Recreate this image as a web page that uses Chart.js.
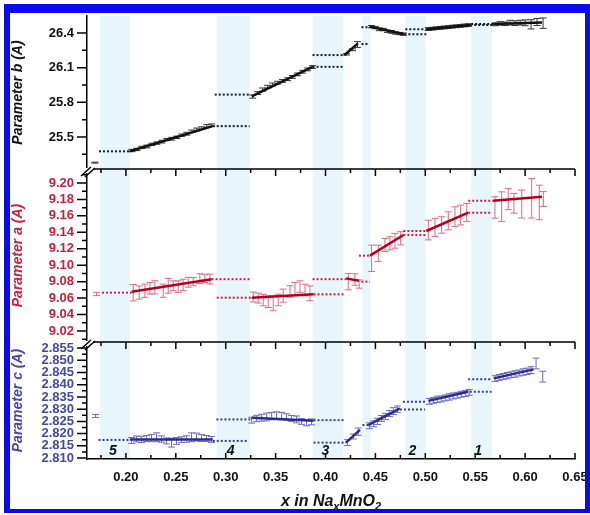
<!DOCTYPE html>
<html lang="en">
<head>
  <meta charset="UTF-8">
  <title>Lattice parameters vs x in NaxMnO2</title>
  <script src="https://cdn.jsdelivr.net/npm/chart.js"></script>
  <style>
    body { margin: 0; background: #fff; }
    #wrap { position: relative; width: 590px; height: 515px; }
    #wrap canvas { position: absolute; left: 0; top: 0; }
    #frame {
      position: absolute; left: 4px; top: 4px; width: 586px; height: 509px;
      box-sizing: border-box; border-style: solid; border-color: #0a0af0;
      border-width: 9px 5px 4px 6px; pointer-events: none;
    }
  </style>
</head>
<body>
  <div id="wrap">
    <canvas id="panelB" width="590" height="515"></canvas>
    <canvas id="panelA" width="590" height="515"></canvas>
    <canvas id="panelC" width="590" height="515"></canvas>
    <div id="frame"></div>
  </div>

  <script>
    const FONT = 'Arial, "Liberation Sans", Helvetica, sans-serif';

    // shared x axis
    const xMin = 0.161, xMax = 0.65;
    const xTicks = [0.20, 0.25, 0.30, 0.35, 0.40, 0.45, 0.50, 0.55, 0.60, 0.65];
    const bands = [[0.174, 0.204], [0.291, 0.324], [0.387, 0.418], [0.437, 0.445], [0.480, 0.500], [0.546, 0.567]];
    const bandLabels = ['5', '4', '3', '2', '1'];
    const bandLabelX = [0.187, 0.305, 0.400, 0.487, 0.553];
    const xTitle = [['x in Na', false], ['x', true], ['MnO', false], ['2', true]];

    // Parameter b (top)
    const bTicks = [25.5, 25.8, 26.1, 26.4];
    const bX = [0.169,
      0.206, 0.211, 0.216, 0.221, 0.226, 0.231, 0.236, 0.241, 0.246, 0.251, 0.256, 0.261, 0.266, 0.271, 0.276, 0.281, 0.286,
      0.327, 0.332, 0.337, 0.342, 0.347, 0.352, 0.357, 0.362, 0.367, 0.372, 0.377, 0.382, 0.387,
      0.421, 0.427, 0.432,
      0.446, 0.450, 0.454, 0.458, 0.462, 0.466, 0.470, 0.474, 0.478,
      0.503, 0.507, 0.511, 0.515, 0.519, 0.523, 0.527, 0.531, 0.535, 0.539, 0.543,
      0.570, 0.575, 0.580, 0.585, 0.590, 0.595, 0.600, 0.606, 0.612, 0.618];
    const bY = [25.278,
      25.383, 25.392, 25.410, 25.418, 25.436, 25.447, 25.460, 25.478, 25.485, 25.497, 25.516, 25.528, 25.550, 25.565, 25.578, 25.595, 25.603,
      25.850, 25.880, 25.910, 25.935, 25.955, 25.970, 25.985, 26.000, 26.020, 26.042, 26.065, 26.085, 26.105,
      26.215, 26.255, 26.300,
      26.455, 26.447, 26.432, 26.430, 26.415, 26.410, 26.400, 26.395, 26.390,
      26.434, 26.437, 26.441, 26.444, 26.448, 26.451, 26.455, 26.458, 26.461, 26.465, 26.468,
      26.475, 26.483, 26.480, 26.490, 26.485, 26.490, 26.488, 26.475, 26.495, 26.485];
    const bErr = [0.004,
      0.010, 0.010, 0.010, 0.012, 0.010, 0.010, 0.012, 0.010, 0.012, 0.010, 0.010, 0.012, 0.010, 0.012, 0.010, 0.012, 0.010,
      0.014, 0.012, 0.014, 0.012, 0.012, 0.012, 0.012, 0.012, 0.012, 0.012, 0.012, 0.012, 0.012,
      0.006, 0.008, 0.025,
      0.010, 0.010, 0.012, 0.010, 0.010, 0.012, 0.010, 0.010, 0.010,
      0.012, 0.012, 0.012, 0.012, 0.012, 0.012, 0.012, 0.012, 0.012, 0.012, 0.012,
      0.012, 0.015, 0.015, 0.020, 0.020, 0.020, 0.025, 0.040, 0.030, 0.045];
    const bFits = [[0.204, 25.376, 0.287, 25.594], [0.326, 25.852, 0.387, 26.107], [0.419, 26.209, 0.4325, 26.310],
      [0.444, 26.455, 0.479, 26.389], [0.501, 26.432, 0.545, 26.470], [0.568, 26.478, 0.617, 26.490]];
    const bDots = [[0.173, 0.204, 25.376], [0.287, 0.324, 25.594], [0.289, 0.324, 25.867], [0.387, 0.4185, 26.107],
      [0.387, 0.4195, 26.209], [0.436, 0.444, 26.305], [0.436, 0.444, 26.450], [0.479, 0.501, 26.389],
      [0.480, 0.501, 26.432], [0.545, 0.567, 26.470], [0.546, 0.568, 26.478]];

    // Parameter a (middle)
    const aTicks = [9.02, 9.04, 9.06, 9.08, 9.10, 9.12, 9.14, 9.16, 9.18, 9.20];
    const aX = [0.1706,
      0.2073, 0.2133, 0.219, 0.224, 0.229, 0.2374, 0.2424, 0.2474, 0.2524, 0.2574, 0.2624, 0.2674, 0.2741, 0.2791, 0.2842,
      0.3276, 0.3326, 0.3376, 0.3426, 0.3476, 0.3526, 0.3576, 0.3644, 0.3694, 0.3744, 0.3794, 0.3844,
      0.4228, 0.4295, 0.4338,
      0.4462, 0.4529, 0.4596, 0.4646, 0.4696, 0.4753,
      0.503, 0.5097, 0.5164, 0.523, 0.5297, 0.5354, 0.5415,
      0.5698, 0.5765, 0.5831, 0.5888, 0.5966, 0.6066, 0.6142, 0.6183];
    const aY = [9.065,
      9.0666, 9.0668, 9.0689, 9.0719, 9.0731, 9.069, 9.075, 9.075, 9.074, 9.076, 9.0792, 9.080, 9.0836, 9.084, 9.0832,
      9.0613, 9.060, 9.0577, 9.0556, 9.0536, 9.0577, 9.063, 9.068, 9.071, 9.074, 9.0698, 9.0658,
      9.080, 9.0826, 9.0771,
      9.1084, 9.1144, 9.1246, 9.1266, 9.1297, 9.1327,
      9.1428, 9.1459, 9.1489, 9.154, 9.159, 9.161, 9.164,
      9.1702, 9.1712, 9.1805, 9.1753, 9.1744, 9.1814, 9.1763, 9.1805];
    const aErr = [0.002,
      0.010, 0.008, 0.008, 0.007, 0.008, 0.008, 0.009, 0.006, 0.007, 0.007, 0.006, 0.005, 0.006, 0.005, 0.006,
      0.006, 0.006, 0.007, 0.007, 0.009, 0.007, 0.008, 0.007, 0.008, 0.007, 0.007, 0.009,
      0.010, 0.007, 0.005,
      0.016, 0.010, 0.008, 0.008, 0.009, 0.008,
      0.012, 0.011, 0.010, 0.011, 0.012, 0.012, 0.011,
      0.013, 0.018, 0.013, 0.012, 0.017, 0.024, 0.021, 0.009];
    const aFits = [[0.2057, 9.0678, 0.2858, 9.0829], [0.326, 9.0605, 0.388, 9.0646], [0.4205, 9.084, 0.4335, 9.081],
      [0.4445, 9.1116, 0.478, 9.1367], [0.501, 9.1416, 0.543, 9.1639], [0.568, 9.1785, 0.617, 9.1833]];
    const aDots = [[0.176, 0.2057, 9.0666], [0.2858, 0.324, 9.083], [0.291, 0.326, 9.0605], [0.388, 0.418, 9.0646],
      [0.387, 0.4205, 9.083], [0.436, 0.4445, 9.080], [0.4335, 0.4445, 9.1116], [0.478, 0.501, 9.1367],
      [0.478, 0.501, 9.1416], [0.543, 0.565, 9.1639], [0.543, 0.568, 9.1785]];

    // Parameter c (bottom)
    const cTicks = [2.810, 2.815, 2.820, 2.825, 2.830, 2.835, 2.840, 2.845, 2.850, 2.855];
    const cX = [0.1696,
      0.2057, 0.2107, 0.2157, 0.2207, 0.2257, 0.2307, 0.2357, 0.2407, 0.2457, 0.2507, 0.2557, 0.2607, 0.2657, 0.2707, 0.2757, 0.2807, 0.2857,
      0.326, 0.331, 0.336, 0.341, 0.346, 0.351, 0.356, 0.361, 0.366, 0.371, 0.376, 0.381, 0.386,
      0.4219, 0.4278, 0.4328,
      0.444, 0.448, 0.452, 0.456, 0.460, 0.464, 0.468, 0.472,
      0.504, 0.508, 0.512, 0.516, 0.520, 0.524, 0.528, 0.532, 0.536, 0.540, 0.544,
      0.570, 0.574, 0.578, 0.582, 0.586, 0.590, 0.594, 0.598, 0.602, 0.606, 0.611, 0.6177];
    const cY = [2.8272,
      2.8172, 2.8178, 2.8176, 2.8180, 2.8182, 2.8185, 2.8178, 2.8170, 2.8163, 2.8170, 2.8175, 2.8178, 2.8185, 2.8186, 2.8182, 2.8180, 2.8176,
      2.8255, 2.8262, 2.8265, 2.8268, 2.8272, 2.8275, 2.8272, 2.8268, 2.8262, 2.8258, 2.8250, 2.8245, 2.8248,
      2.8163, 2.8188, 2.8208,
      2.8232, 2.8240, 2.8250, 2.8262, 2.8270, 2.8282, 2.8292, 2.8300,
      2.8332, 2.8336, 2.8340, 2.8342, 2.8346, 2.8350, 2.8354, 2.8357, 2.8361, 2.8364, 2.8369,
      2.8425, 2.8430, 2.8434, 2.8437, 2.8441, 2.8444, 2.8448, 2.8452, 2.8455, 2.8460, 2.8487, 2.8433];
    const cErr = [0.0006,
      0.0012, 0.0012, 0.0013, 0.0012, 0.0015, 0.0018, 0.0013, 0.0012, 0.0018, 0.0014, 0.0012, 0.0013, 0.0018, 0.0016, 0.0014, 0.0012, 0.0012,
      0.0012, 0.0013, 0.0014, 0.0016, 0.0015, 0.0014, 0.0015, 0.0013, 0.0012, 0.0014, 0.0012, 0.0013, 0.0012,
      0.0012, 0.0010, 0.0015,
      0.0012, 0.0012, 0.0013, 0.0012, 0.0013, 0.0012, 0.0014, 0.0013,
      0.0012, 0.0012, 0.0013, 0.0012, 0.0012, 0.0013, 0.0012, 0.0012, 0.0012, 0.0012, 0.0012,
      0.0012, 0.0012, 0.0012, 0.0013, 0.0012, 0.0013, 0.0012, 0.0013, 0.0013, 0.0014, 0.0022, 0.0022];
    const cFits = [[0.204, 2.8176, 0.287, 2.8176], [0.326, 2.8265, 0.388, 2.8253], [0.4205, 2.8163, 0.4345, 2.8215],
      [0.4428, 2.8235, 0.4746, 2.8303], [0.503, 2.8334, 0.543, 2.8371], [0.5685, 2.8426, 0.6085, 2.8463]];
    const cDots = [[0.1725, 0.204, 2.8174], [0.2907, 0.326, 2.8258], [0.287, 0.3216, 2.8170], [0.388, 0.4195, 2.8255],
      [0.388, 0.4205, 2.8163], [0.437, 0.4428, 2.8235], [0.4746, 0.4996, 2.8299], [0.4776, 0.5006, 2.8330],
      [0.5446, 0.5663, 2.8371], [0.543, 0.5663, 2.8422]];

    // draws bands, error bars, tick marks, break marks and labels
    const deco = {
      id: 'deco',
      beforeDraw(chart) {
        const { ctx, chartArea: a, scales: { x } } = chart;
        ctx.save();
        ctx.fillStyle = '#e8f5fb';
        bands.forEach(([b0, b1]) => {
          const p0 = x.getPixelForValue(b0), p1 = x.getPixelForValue(b1);
          ctx.fillRect(p0, a.top, p1 - p0, a.bottom - a.top);
        });
        ctx.restore();
      },
      beforeDatasetsDraw(chart, args, o) {
        const { ctx, scales: { x, y } } = chart;
        const pts = chart.data.datasets[0].data;
        ctx.save();
        ctx.strokeStyle = o.errColor;
        ctx.lineWidth = 1;
        pts.forEach((p, i) => {
          const px = x.getPixelForValue(p.x);
          const y1 = y.getPixelForValue(p.y + o.err[i]);
          const y2 = y.getPixelForValue(p.y - o.err[i]);
          ctx.beginPath();
          ctx.moveTo(px, y1); ctx.lineTo(px, y2);
          ctx.moveTo(px - 3.5, y1); ctx.lineTo(px + 3.5, y1);
          ctx.moveTo(px - 3.5, y2); ctx.lineTo(px + 3.5, y2);
          ctx.stroke();
        });
        ctx.restore();
      },
      afterDraw(chart, args, o) {
        const { ctx, chartArea: a, scales: { x, y } } = chart;
        ctx.save();
        ctx.strokeStyle = '#000';
        ctx.lineWidth = 1.5;

        // y ticks (major + minor), outward
        const step = o.yTicks[1] - o.yTicks[0];
        ctx.beginPath();
        o.yTicks.forEach(t => {
          const py = y.getPixelForValue(t);
          ctx.moveTo(a.left - 10, py); ctx.lineTo(a.left, py);
          [t - step / 2, t + step / 2].forEach(m => {
            if (m > y.min && m < y.max) {
              const pm = y.getPixelForValue(m);
              ctx.moveTo(a.left - 5, pm); ctx.lineTo(a.left, pm);
            }
          });
        });
        ctx.stroke();

        const xMinor = xTicks.map(t => t - 0.025).filter(t => t > xMin);
        if (o.top) {
          ctx.beginPath();
          ctx.moveTo(a.left, a.top); ctx.lineTo(a.right, a.top);
          xTicks.forEach(t => { const p = x.getPixelForValue(t); ctx.moveTo(p, a.top); ctx.lineTo(p, a.top + 7); });
          xMinor.forEach(t => { const p = x.getPixelForValue(t); ctx.moveTo(p, a.top); ctx.lineTo(p, a.top + 4); });
          ctx.stroke();
          // break mark
          ctx.fillStyle = '#fff';
          ctx.fillRect(a.left - 6, a.top - 1, 12, 5);
          ctx.beginPath();
          ctx.moveTo(a.left - 6, a.top + 7); ctx.lineTo(a.left + 4, a.top - 2);
          ctx.moveTo(a.left - 2, a.top + 8); ctx.lineTo(a.left + 8, a.top - 1);
          ctx.stroke();
        }
        if (o.bottom) {
          ctx.beginPath();
          xTicks.forEach(t => { const p = x.getPixelForValue(t); ctx.moveTo(p, a.bottom); ctx.lineTo(p, a.bottom - 6); });
          xMinor.forEach(t => { const p = x.getPixelForValue(t); ctx.moveTo(p, a.bottom); ctx.lineTo(p, a.bottom - 4); });
          ctx.stroke();

          ctx.fillStyle = '#111';
          ctx.font = `italic bold 14px ${FONT}`;
          ctx.textAlign = 'center';
          ctx.textBaseline = 'middle';
          bandLabels.forEach((s, i) => ctx.fillText(s, x.getPixelForValue(bandLabelX[i]), a.bottom - 8));

          // x title with subscripts
          const big = `italic bold 16px ${FONT}`, small = `italic bold 11px ${FONT}`;
          let w = 0;
          xTitle.forEach(([s, sub]) => { ctx.font = sub ? small : big; w += ctx.measureText(s).width; });
          let cx = (a.left + a.right) / 2 - w / 2;
          ctx.textAlign = 'left';
          ctx.textBaseline = 'alphabetic';
          xTitle.forEach(([s, sub]) => {
            ctx.font = sub ? small : big;
            ctx.fillText(s, cx, sub ? 510 : 506);
            cx += ctx.measureText(s).width;
          });
        }
        ctx.restore();
      }
    };

    function panelDatasets(X, Y, fits, dots, lineColor, dotColor) {
      const sets = [{ data: X.map((x, i) => ({ x, y: Y[i] })), showLine: false, pointRadius: 0 }];
      fits.forEach(f => sets.push({
        data: [{ x: f[0], y: f[1] }, { x: f[2], y: f[3] }],
        showLine: true, borderColor: lineColor, borderWidth: 2.5, pointRadius: 0
      }));
      dots.forEach(d => sets.push({
        data: [{ x: d[0], y: d[2] }, { x: d[1], y: d[2] }],
        showLine: true, borderColor: dotColor, borderWidth: 2, borderDash: [2, 2], pointRadius: 0
      }));
      return sets;
    }

    function yScale(ticks, digits, min, max, title, color) {
      return {
        type: 'linear', position: 'left', min, max,
        afterFit: s => { s.width = 87; s.paddingTop = 0; s.paddingBottom = 0; },
        afterBuildTicks: s => { s.ticks = ticks.map(v => ({ value: v })); },
        border: { display: true, color: '#000', width: 1.5 },
        grid: { drawOnChartArea: false, drawTicks: false },
        ticks: { color, padding: 13, autoSkip: false, font: { family: FONT, size: 13, weight: 'bold' }, callback: v => v.toFixed(digits) },
        title: {
          display: true, text: title, color, padding: { top: 10, bottom: 0 },
          font: { family: FONT, size: 14, weight: 'bold', style: 'italic' }
        }
      };
    }

    function makePanel(id, sets, yOpts, pad, deco_opts, showX) {
      const xScale = showX ? {
        type: 'linear', min: xMin, max: xMax,
        afterFit: s => { s.height = 30; s.paddingLeft = 0; s.paddingRight = 0; },
        afterBuildTicks: s => { s.ticks = xTicks.map(v => ({ value: v })); },
        border: { display: true, color: '#000', width: 1.5 },
        grid: { drawOnChartArea: false, drawTicks: false },
        ticks: { color: '#111', padding: 11, maxRotation: 0, autoSkip: false, font: { family: FONT, size: 13, weight: 'bold' }, callback: v => v.toFixed(2) }
      } : { type: 'linear', min: xMin, max: xMax, display: false };
      return new Chart(document.getElementById(id), {
        type: 'scatter',
        data: { datasets: sets },
        options: {
          responsive: false,
          animation: false,
          layout: { padding: pad },
          scales: { x: xScale, y: yOpts },
          plugins: { legend: { display: false }, tooltip: { enabled: false }, deco: deco_opts }
        },
        plugins: [deco]
      });
    }

    makePanel('panelB',
      panelDatasets(bX, bY, bFits, bDots, '#111', '#1a1a1a'),
      yScale(bTicks, 1, 25.223, 26.547, 'Parameter b (A)', '#111'),
      { top: 16, bottom: 346, left: 0, right: 15 },
      { err: bErr, errColor: '#333', yTicks: bTicks, top: false, bottom: false }, false);

    makePanel('panelA',
      panelDatasets(aX, aY, aFits, aDots, '#b4001e', '#d0203c'),
      yScale(aTicks, 2, 9.0066, 9.217, 'Parameter a (A)', '#c8203c'),
      { top: 169, bottom: 173, left: 0, right: 15 },
      { err: aErr, errColor: '#e06a7e', yTicks: aTicks, top: true, bottom: false }, false);

    makePanel('panelC',
      panelDatasets(cX, cY, cFits, cDots, '#2a2a90', '#3a3a9a'),
      yScale(cTicks, 3, 2.8096, 2.8575, 'Parameter c (A)', '#4646a8'),
      { top: 342, bottom: 26, left: 0, right: 15 },
      { err: cErr, errColor: '#6b6bc4', yTicks: cTicks, top: true, bottom: true }, true);
  </script>
</body>
</html>
